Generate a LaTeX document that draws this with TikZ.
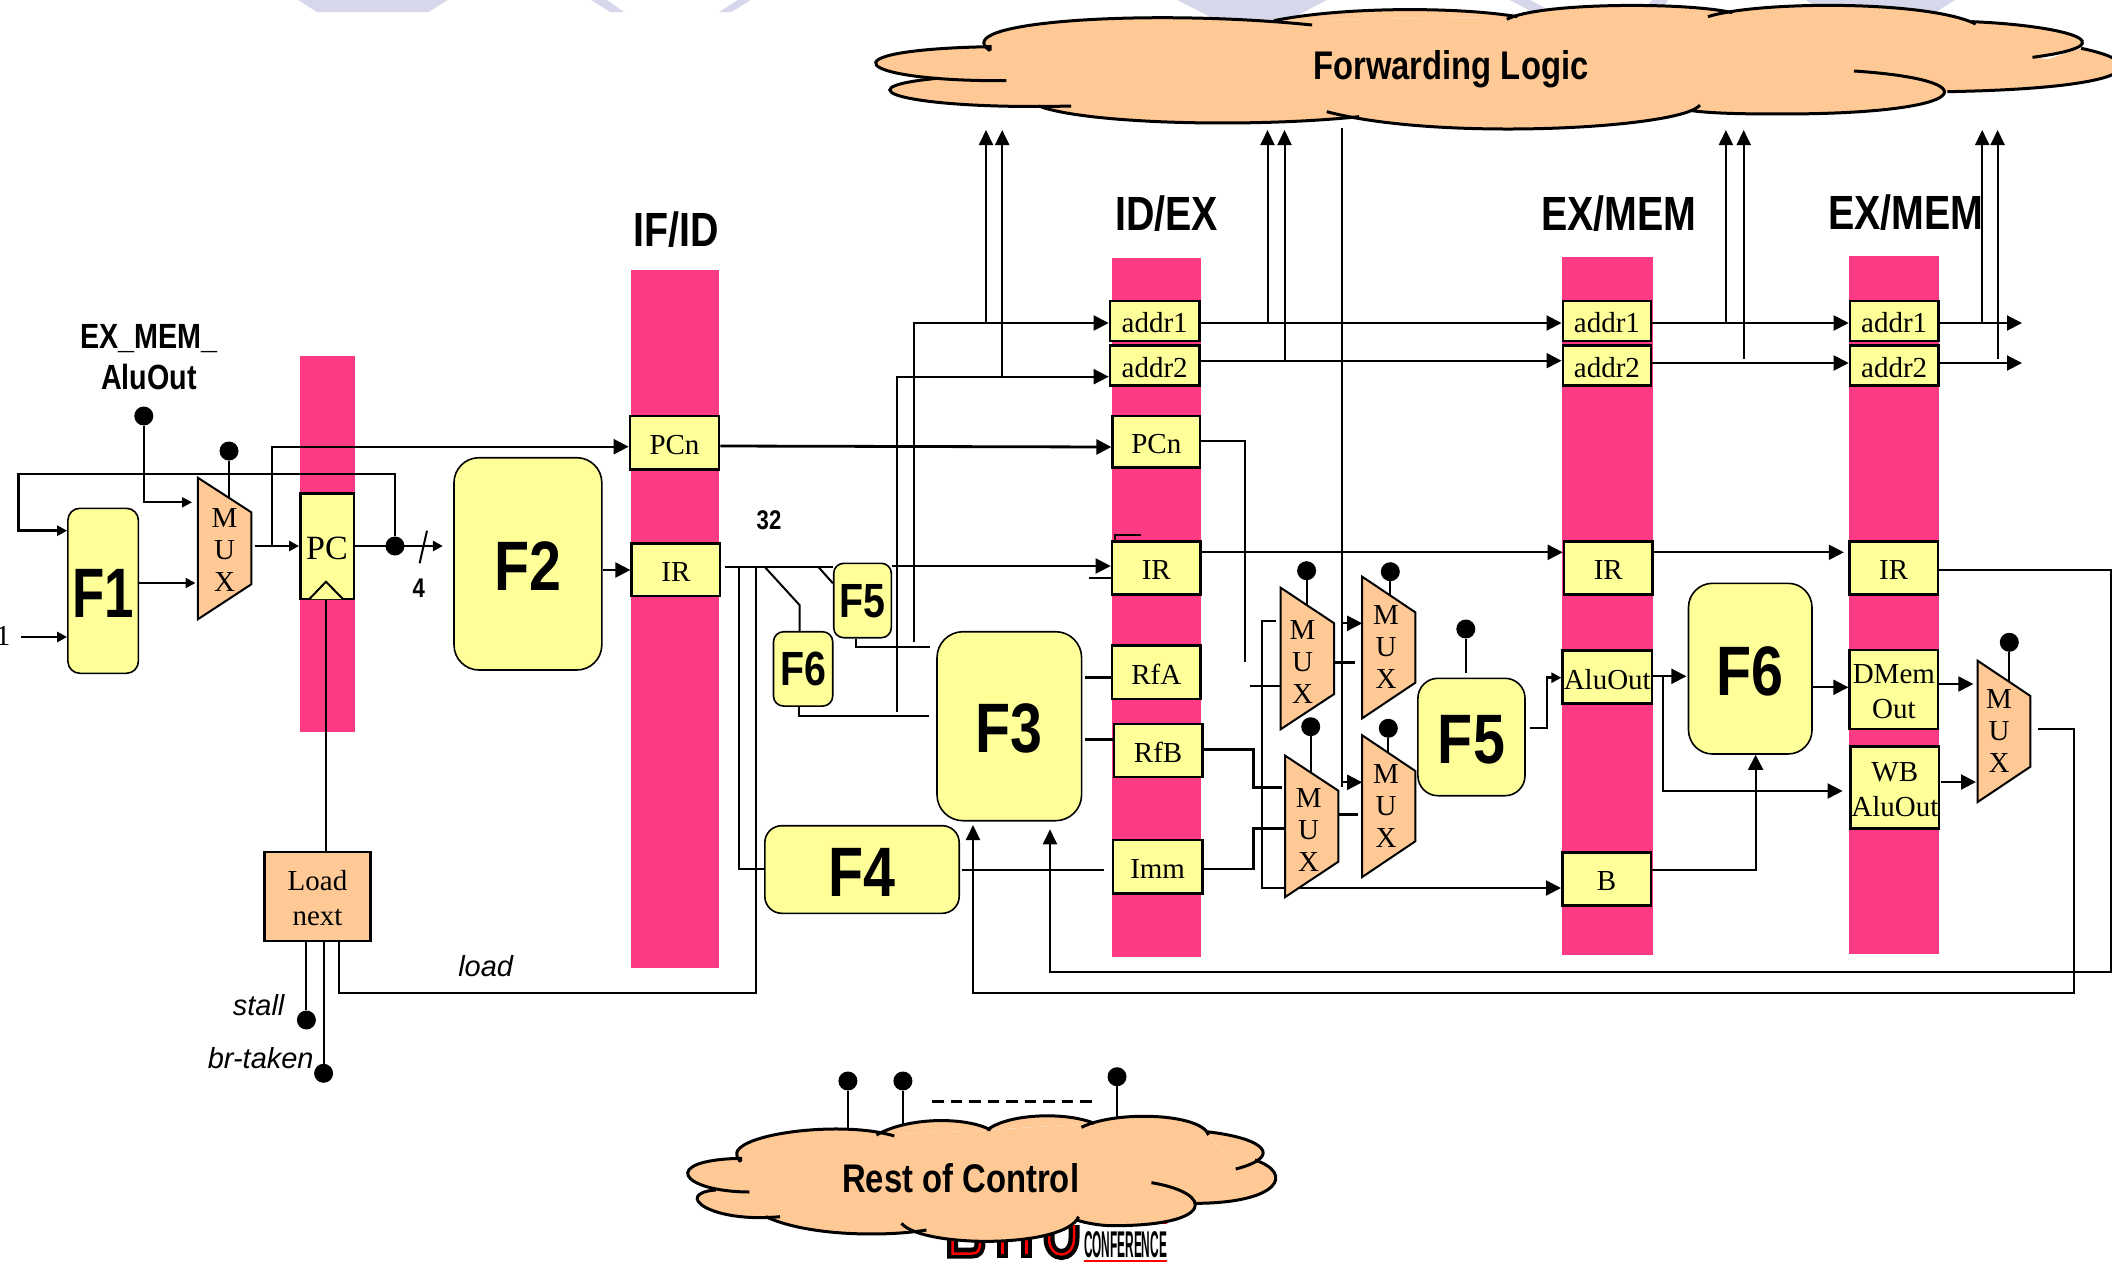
\documentclass[tikz,border=0pt]{standalone}
\usepackage{graphicx}
\usepackage{fontspec}
\setmainfont{Liberation Serif}
\newfontfamily\condsans[FakeStretch=0.82]{Liberation Sans}
\newfontfamily\plainsans{Liberation Sans}
\usetikzlibrary{arrows.meta}
\definecolor{barpink}{HTML}{FF3A85}
\definecolor{regyellow}{HTML}{FFFF99}
\definecolor{muxorange}{HTML}{FFC996}
\definecolor{lavender}{HTML}{D6D7EA}
\pgfdeclarelayer{bars}
\pgfdeclarelayer{wires}
\pgfsetlayers{bars,wires,main}
\tikzset{
  wire/.style={line width=2pt,draw=black},
  heavy/.style={line width=2.8pt,draw=black},
  larr/.style={-{Triangle[length=15pt,width=15pt]}},
  sarr/.style={-{Triangle[length=10pt,width=10pt]}},
  uarr/.style={-{Triangle[length=15pt,width=14pt]}},
  regbox/.style={rectangle,draw=black,line width=2.6pt,fill=regyellow,inner sep=0pt},
  regtext/.style={inner sep=0pt,align=center,font=\fontsize{29}{35}\selectfont},
  bigbox/.style={rectangle,rounded corners=#1,draw=black,line width=1.6pt,fill=regyellow,inner sep=0pt},
  bigtext/.style={inner sep=0pt,font=\condsans\bfseries\fontsize{70}{70}\selectfont},
  smalltext/.style={inner sep=0pt,font=\condsans\bfseries\fontsize{48}{48}\selectfont},
  muxbox/.style={draw=black,line width=2pt,fill=muxorange},
  muxtext/.style={inner sep=0pt,align=center,font=\fontsize{29}{32}\selectfont},
  dotn/.style={circle,fill=black,inner sep=0pt,minimum size=19pt},
  title/.style={inner sep=0pt,font=\condsans\bfseries\fontsize{48}{48}\selectfont},
  small/.style={inner sep=0pt,align=center,font=\condsans\bfseries\fontsize{35}{40}\selectfont},
  ital/.style={inner sep=0pt,font=\plainsans\itshape\fontsize{29}{29}\selectfont},
  cloudtext/.style={inner sep=0pt,font=\condsans\bfseries\fontsize{40}{40}\selectfont},
  lobefill/.style={fill=muxorange},
  lobeline/.style={draw=black,line width=3pt},
  logoblack/.style={draw=black,line width=11pt},
  logored/.style={draw=red,line width=2.5pt},
}
\newcommand\regn[6]{\node[regbox,minimum width={(#4-#2)*1pt},minimum height={(#5-#3)*1pt}] (#1) at ({(#2+#4)/2},{(#3+#5)/2}) {};
  \node[regtext] (#1-t) at ({(#2+#4)/2},{(#3+#5)/2+2}) {#6};}
\newcommand\bign[7]{\node[bigbox=#7,minimum width={(#4-#2)*1pt},minimum height={(#5-#3)*1pt}] (#1) at ({(#2+#4)/2},{(#3+#5)/2}) {};
  \node[bigtext] (#1-t) at ({(#2+#4)/2},{(#3+#5)/2+2.5}) {#6};}
\newcommand\muxn[9]{\draw[muxbox] (#2,#4)--(#3,#5)--(#3,#6)--(#2,#7)--cycle;
  \node[muxtext] (#1) at (#8,#9) {M\\U\\X};
  \coordinate (#1-w) at (#2,#4);\coordinate (#1-e) at (#3,#5);}
\newcommand\lobeF[1]{\fill[lobefill] #1 -- cycle;}
\newcommand\lobeS[1]{\draw[lobeline] #1;}
\newcommand\forwardlobes{%
 \lobe{(185,152) .. controls (130,65) and (380,25) .. (582,75)}%
 \lobe{(535,62) .. controls (620,20) and (760,20) .. (835,50)}%
 \lobe{(822,58) .. controls (860,8) and (1040,5) .. (1100,38)}%
 \lobe{(1070,50) .. controls (1130,3) and (1340,0) .. (1400,72)}%
 \lobe{(1395,65) .. controls (1500,75) and (1600,130) .. (1470,172)}%
 \lobe{(1530,145) .. controls (1620,190) and (1600,265) .. (1365,275)}%
 \lobe{(1250,213) .. controls (1420,240) and (1400,342) .. (1160,342) .. controls (1110,342) and (1075,340) .. (1050,332)}%
 \lobe{(1060,315) .. controls (1040,385) and (740,425) .. (600,335)}%
 \lobe{(640,350) .. controls (500,385) and (300,370) .. (245,318)}%
 \lobe{(285,318) .. controls (90,330) and (-10,265) .. (120,235)}%
 \lobe{(205,242) .. controls (20,245) and (-30,150) .. (185,140) -- (185,152)}%
}
\newcommand\restlobes{%
 \lobe{(785,965) .. controls (745,890) and (920,835) .. (1000,888)}%
 \lobe{(975,885) .. controls (1020,830) and (1100,830) .. (1135,870)}%
 \lobe{(1130,870) .. controls (1160,820) and (1240,815) .. (1280,850)}%
 \lobe{(1262,862) .. controls (1310,810) and (1430,820) .. (1440,885)}%
 \lobe{(1437,875) .. controls (1520,895) and (1545,950) .. (1478,987)}%
 \lobe{(1505,960) .. controls (1560,1000) and (1540,1090) .. (1420,1090)}%
 \lobe{(1360,1028) .. controls (1450,1060) and (1450,1160) .. (1300,1157) .. controls (1285,1155) and (1270,1150) .. (1255,1140)}%
 \lobe{(1258,1130) .. controls (1240,1225) and (1040,1225) .. (1010,1150)}%
 \lobe{(1045,1170) .. controls (990,1190) and (880,1190) .. (820,1130)}%
 \lobe{(840,1130) .. controls (740,1150) and (690,1060) .. (750,1050)}%
 \lobe{(797,1056) .. controls (700,1055) and (670,960) .. (785,955) -- (785,965)}%
}
\begin{document}
\begin{tikzpicture}[x=1pt,y=-1pt]
\useasboundingbox (0,0) rectangle (2112,1266);
\begin{pgfonlayer}{bars}
  \fill[white] (0,0) rectangle (2112,1266);
  % watermark fragments
  \fill[lavender] (298,0)--(317,12)--(428.6,12)--(447.7,0)--cycle;
  \fill[lavender] (591,0)--(610,12)--(624,12)--(607,0)--cycle;
  \fill[lavender] (719,12)--(731.5,12)--(750.6,0)--(738,0)--cycle;
  \fill[lavender] (1177.5,0)--(1220,22)--(1285,22)--(1326.7,0)--cycle;
  \fill[lavender] (1510,0)--(1536,14)--(1556,14)--(1530,0)--cycle;
  \fill[lavender] (1640,14)--(1660,14)--(1668,0)--(1652,0)--cycle;
  \fill[lavender] (1806,0)--(1835,22)--(1920,22)--(1955,0)--cycle;
  % pipeline bars
  \fill[barpink] (300,356) rectangle (354.5,732);
  \fill[barpink] (631,269.5) rectangle (719,967.7);
  \fill[barpink] (1111.7,258) rectangle (1201,956.7);
  \fill[barpink] (1562.3,256.7) rectangle (1652.6,955);
  \fill[barpink] (1849,256) rectangle (1939,954);
  % logo fragment
  \draw[logoblack] (952.7,1225)--(952.7,1253)--(972,1253) .. controls (978,1253) and (980,1250) .. (980,1242)--(980,1225);
  \draw[logored] (952.7,1225)--(952.7,1253.5)--(972,1253.5) .. controls (978,1253.5) and (980,1250) .. (980,1242)--(980,1225);
  \draw[logoblack] (1002.7,1225)--(1002.7,1258);
  \draw[logored] (1002.7,1225)--(1002.7,1254);
  \draw[logoblack] (1026.5,1225)--(1026.5,1258);
  \draw[logored] (1026.5,1225)--(1026.5,1254);
  \draw[logoblack] (1049,1225)--(1049,1238) .. controls (1049,1260) and (1074,1260) .. (1074,1238)--(1074,1225);
  \draw[logored] (1049,1225)--(1049,1238) .. controls (1049,1260) and (1074,1260) .. (1074,1238)--(1074,1225);
  \node[inner sep=0pt] (conf) at (1125.5,1245) {\resizebox{83pt}{26pt}{\plainsans\bfseries CONFERENCE}};
  \draw[red,line width=1.6pt] (conf.south west |- 0,1261) -- (conf.south east |- 0,1261);
  \draw[red,line width=2pt] (conf.south west |- 0,1223) -- (conf.south east |- 0,1223);
\end{pgfonlayer}

% registers
\regn{pc}{300.4}{493.3}{354}{599}{}
\node[regtext,font=\fontsize{34}{34}\selectfont] (pclabel) at (327,548) {PC};
\regn{ifpcn}{630}{416}{719}{469.3}{PCn}
\regn{ifir}{631.7}{543.3}{720}{596}{IR}
\regn{idaone}{1110}{301}{1199.4}{341}{addr1}
\regn{idatwo}{1110}{345.7}{1199.4}{385.7}{addr2}
\regn{idpcn}{1112.6}{416}{1200}{467.5}{PCn}
\regn{idir}{1112}{541.7}{1200.5}{594.7}{IR}
\regn{rfa}{1112}{645.7}{1200.5}{699}{RfA}
\regn{rfb}{1113.8}{724}{1202.5}{777}{RfB}
\regn{imm}{1112.8}{840}{1202.5}{893.3}{Imm}
\regn{exaone}{1562.8}{301}{1651}{341}{addr1}
\regn{exatwo}{1562.8}{345.7}{1651}{385.7}{addr2}
\regn{exir}{1564}{541.7}{1652.6}{594.7}{IR}
\regn{exalu}{1562.7}{650.7}{1651.8}{703.7}{AluOut}
\regn{exb}{1562.3}{852.7}{1651}{905.7}{B}
\regn{maone}{1850}{301}{1938.4}{341}{addr1}
\regn{matwo}{1850}{345.7}{1938.4}{385.7}{addr2}
\regn{mair}{1849.3}{541.7}{1938}{594.7}{IR}
\regn{dmem}{1849.7}{650}{1938}{729}{DMem\\Out}
\regn{wbalu}{1850.6}{746.7}{1939}{828.3}{WB\\AluOut}
\node[regbox,fill=muxorange,minimum width=106.4pt,minimum height=89pt] (loadn) at (317.5,896.5) {};
\node[regtext] (loadt) at (317.5,898.5) {Load\\next};
\draw[wire,fill=regyellow] (309.4,599)--(326,581.7)--(342.9,599);

% functional blocks
\bign{fone}{67.9}{508.3}{138.4}{673.3}{\scalebox{.92}[1]{F1}}{12pt}
\bign{ftwo}{454}{457.7}{601.8}{670}{F2}{25pt}
\bign{fthree}{937}{631.7}{1081.6}{820.7}{F3}{26pt}
\bign{ffour}{764.8}{825.7}{959.2}{913.3}{F4}{17pt}
\bign{ffiveb}{1417.9}{678.3}{1525}{795.7}{F5}{20pt}
\bign{fsixb}{1688.5}{583.3}{1812}{754}{F6}{24pt}
\node[bigbox=10pt,minimum width=57.6pt,minimum height=74.4pt] (ffives) at (862.5,600.5) {};
\node[smalltext] (ffives-t) at (862.5,601) {F5};
\node[bigbox=10pt,minimum width=59.2pt,minimum height=74.3pt] (fsixs) at (803.1,668.9) {};
\node[smalltext] (fsixs-t) at (803.1,669.4) {F6};

% muxes
\muxn{mz}{197.8}{251.3}{477.7}{512.3}{584.3}{619.3}{224.5}{550}
\muxn{ma}{1280.6}{1334.2}{587.7}{623.3}{694}{729.3}{1302.5}{662}
\muxn{mb}{1362.2}{1415.3}{576.7}{612.3}{682.7}{718.3}{1386}{647}
\muxn{mc}{1285.2}{1338.3}{755.7}{790.7}{861.7}{897}{1308.7}{830}
\muxn{md}{1362.2}{1415.3}{735.3}{771}{841.3}{877}{1386}{806}
\muxn{mw}{1977.6}{2030.4}{660.7}{696}{766.7}{802}{1999}{731}

% dots
\node[dotn] (dex) at (143.8,416) {};
\node[dotn] (dmz) at (229,451) {};
\node[dotn] (dpc) at (395,546) {};
\node[dotn] (dma) at (1306.6,570.7) {};
\node[dotn] (dmb) at (1390.3,571.7) {};
\node[dotn] (dmc) at (1310.7,726.7) {};
\node[dotn] (dmd) at (1388.3,728.3) {};
\node[dotn] (dfv) at (1465.8,629) {};
\node[dotn] (dmw) at (2009.3,642.3) {};
\node[dotn] (dst) at (306.4,1020) {};
\node[dotn] (dbr) at (323.6,1073.3) {};
\node[dotn] (dra) at (847.9,1081) {};
\node[dotn] (drb) at (902.9,1081) {};
\node[dotn] (drc) at (1117,1076.7) {};

% clouds
\begin{scope}[shift={(840,0)},x=.8112pt,y=-.33333pt]
  \fill[lobefill] (185,140)--(535,62)--(835,50)--(1100,38)--(1400,72)--(1530,130)--(1470,172)--(1560,200)--(1365,275)--(1160,342)--(1060,332)--(640,355)--(245,318)--(120,235)--(60,190)--cycle;
  \let\lobe\lobeF \forwardlobes
  \let\lobe\lobeS \forwardlobes
  \node[cloudtext] (fwd) at (753,207) {Forwarding Logic};
\end{scope}
\begin{scope}[shift={(180,840)},x=.71429pt,y=-.33333pt]
  \fill[lobefill] (785,955)--(975,885)--(1135,870)--(1280,850)--(1440,885)--(1478,987)--(1505,960)--(1500,1060)--(1420,1090)--(1300,1157)--(1258,1140)--(1045,1175)--(820,1130)--(750,1050)--(750,1000)--cycle;
  \let\lobe\lobeF \restlobes
  \let\lobe\lobeS \restlobes
  \node[cloudtext] (rest) at (1093,1015) {Rest of Control};
\end{scope}

% titles and labels
\node[title] (tif) at (676,230) {IF/ID};
\node[title] (tid) at (1166.5,214) {ID/EX};
\node[title] (tex) at (1619,214) {EX/MEM};
\node[title] (tma) at (1906,213) {EX/MEM};
\node[small] (lex) at (149,357) {EX\_MEM\_\\[1pt]AluOut};
\node[inner sep=0pt,font=\condsans\bfseries\fontsize{27}{27}\selectfont] (lfour) at (418.8,588) {4};
\node[inner sep=0pt,font=\condsans\bfseries\fontsize{27}{27}\selectfont] (lthree) at (769,520) {32};
\node[inner sep=0pt,font=\fontsize{29}{29}\selectfont] (lone) at (3,636) {1};
\node[ital] (lload) at (485.7,966) {load};
\node[ital] (lstall) at (258.6,1005) {stall};
\node[ital] (lbr) at (260.7,1058) {br-taken};

\begin{pgfonlayer}{wires}
  % fetch section
  \draw[heavy,sarr] (dpc) -- (dpc |- 0,474) -- (18.75,474) -- (18.75,530.7) -- (fone.west |- 0,530.7);
  \draw[wire,sarr] (dex) -- (dex |- 0,502.3) -- (192,502.3);
  \draw[wire] (dmz) -- (dmz |- 0,497);
  \draw[wire,larr] (272.3,546) -- (272.3,446.7) -- (ifpcn.west |- 0,446.7);
  \draw[heavy,sarr] (254.5,546) -- (pc.west |- 0,546);
  \draw[heavy,sarr] (pc.east |- 0,546) -- (442.9,546);
  \draw[wire] (427,530.7) -- (419.6,563.3);
  \draw[wire,sarr] (134.8,583) -- (195.5,583);
  \draw[heavy,sarr] (21.4,637) -- (fone.west |- 0,637);
  \draw[wire,larr] (ftwo.east |- 0,570) -- (ifir.west |- 0,570);
  \draw[wire] (326.2,599) -- (loadn.north -| 326.2,0);
  % load next outputs
  \draw[wire] (dst) -- (dst |- 0,941);
  \draw[wire] (dbr) -- (dbr |- 0,941);
  \draw[wire] (338.6,941) -- (338.6,993.3) -- (756,993.3) -- (756,567);
  % IR fan-out
  \draw[heavy] (ifir.east |- 0,567) ++(4,0) -- (ffives.west |- 0,567);
  \draw[wire,larr] (ffives.east |- 0,566) -- (idir.west |- 0,566);
  \draw[wire] (1088.8,578.3) -- (idir.west |- 0,578.3);
  \draw[wire] (1114.8,541.7) -- (1114.8,534.7) -- (1141,534.7);
  \draw[wire] (738.8,567) -- (738.8,869.3) -- (ffour.west |- 0,869.3);
  \draw[wire] (764.8,567) -- (799.5,605) -- (fsixs.north -| 799.5,0);
  \draw[wire] (818.4,567) -- (ffives.west |- 0,583.3);
  \draw[wire] (ffives.south -| 855.6,0) -- (855.6,646.7) -- (929.6,646.7);
  \draw[wire] (fsixs.south -| 798.5,0) -- (798.5,716) -- (929,716);
  \draw[wire,larr] (897.4,711.7) -- (897.4,376.7) -- (idatwo.west |- 0,376.7);
  \draw[wire,larr] (914.3,641.7) -- (914.3,323) -- (idaone.west |- 0,323);
  \draw[wire,uarr] (986,323) -- (986,130);
  \draw[wire,uarr] (1002.2,376.7) -- (1002.2,130);
  % address lines
  \draw[wire,larr] (idaone.east |- 0,323) -- (exaone.west |- 0,323);
  \draw[wire,larr] (idatwo.east |- 0,360.7) -- (exatwo.west |- 0,360.7);
  \draw[wire,uarr] (1267.5,323) -- (1267.5,130);
  \draw[wire,uarr] (1284.5,360) -- (1284.5,130);
  \draw[wire,larr] (exaone.east |- 0,323) -- (maone.west |- 0,323);
  \draw[wire,larr] (exatwo.east |- 0,363) -- (matwo.west |- 0,363);
  \draw[wire,uarr] (1725.9,323) -- (1725.9,130);
  \draw[wire,uarr] (1743.7,359.3) -- (1743.7,130);
  \draw[wire,larr] (maone.east |- 0,323) -- (2022,323);
  \draw[wire,larr] (matwo.east |- 0,363) -- (2022,363);
  \draw[wire,uarr] (1982.2,323) -- (1982.2,130);
  \draw[wire,uarr] (1997.6,359) -- (1997.6,130);
  % long vertical from forwarding logic
  \draw[wire] (1342,128) -- (1342,786.7);
  \draw[wire,larr] (1342,623.3) -- (mb-w |- 0,623.3);
  \draw[wire,larr] (1342,782.3) -- (md-w |- 0,782.3);
  % PCn and IR pipeline
  \draw[heavy,larr] (ifpcn.east |- 0,446) -- (idpcn.west |- 0,447);
  \draw[wire] (idpcn.east |- 0,440.5) -- (1245.4,440.5) -- (1245.4,662.3);
  \draw[wire,larr] (idir.east |- 0,552.3) -- (exir.west |- 0,552.3);
  \draw[wire,larr] (exir.east |- 0,552.3) -- (1843.8,552.3);
  \draw[wire,uarr] (mair.east |- 0,570.3) -- (2110.6,570.3) -- (2110.6,971.7) -- (1050,971.7) -- (1050,829.3);
  \draw[wire,uarr] (2037.6,729) -- (2073.5,729) -- (2073.5,993.3) -- (973,993.3) -- (973,825);
  % execute section
  \draw[heavy] (1085,677.7) -- (rfa.west |- 0,677.7);
  \draw[heavy] (1085,739.7) -- (rfb.west |- 0,739.7);
  \draw[wire] (961.7,870) -- (1104,870);
  \draw[heavy] (rfb.east |- 0,749.7) -- (1253.6,749.7) -- (1253.6,787.7) -- (1281.6,787.7);
  \draw[heavy] (imm.east |- 0,869) -- (1253.6,869) -- (1253.6,828.3) -- (mc-w |- 0,828.3);
  \draw[wire,larr] (1275.5,621) -- (1261.7,621) -- (1261.7,888) -- (exb.west |- 0,888);
  \draw[heavy] (1249.5,686) -- (ma-w |- 0,686);
  \draw[heavy] (ma-e |- 0,662.3) -- (1354.6,662.3);
  \draw[heavy] (mc-e |- 0,814.7) -- (1358,814.7);
  \draw[wire] (dma) -- (dma |- 0,606);
  \draw[wire] (dmb) -- (dmb |- 0,595);
  \draw[wire] (dmc) -- (dmc |- 0,771.7);
  \draw[wire] (dmd) -- (dmd |- 0,751.7);
  \draw[wire] (dfv) -- (dfv |- 0,672.7);
  \draw[wire] (dmw) -- (dmw |- 0,681.7);
  \draw[heavy,sarr] (1530.2,728) -- (1547,728) -- (1547,677.7) -- (exalu.west |- 0,677.7);
  \draw[wire,larr] (exalu.east |- 0,676.3) -- (1686.4,676.3);
  \draw[wire,larr] (1663.2,676.3) -- (1663.2,791) -- (1842.6,791);
  \draw[wire,larr] (exb.east |- 0,870) -- (1755.6,870) -- (fsixb.south -| 1755.6,0);
  \draw[wire,larr] (fsixb.east |- 0,687.3) -- (dmem.west |- 0,687.3);
  \draw[wire,larr] (dmem.east |- 0,684) -- (1973.4,684);
  \draw[wire,larr] (1941,782) -- (1976,782);
  % rest of control
  \draw[wire] (dra) -- (dra |- 0,1131);
  \draw[wire] (drb) -- (drb |- 0,1125);
  \draw[wire] (drc) -- (drc |- 0,1118);
  \draw[line width=2.6pt,dash pattern=on 11.5pt off 7pt] (932,1101.3) -- (1092,1101.3);
\end{pgfonlayer}
\end{tikzpicture}
\end{document}
